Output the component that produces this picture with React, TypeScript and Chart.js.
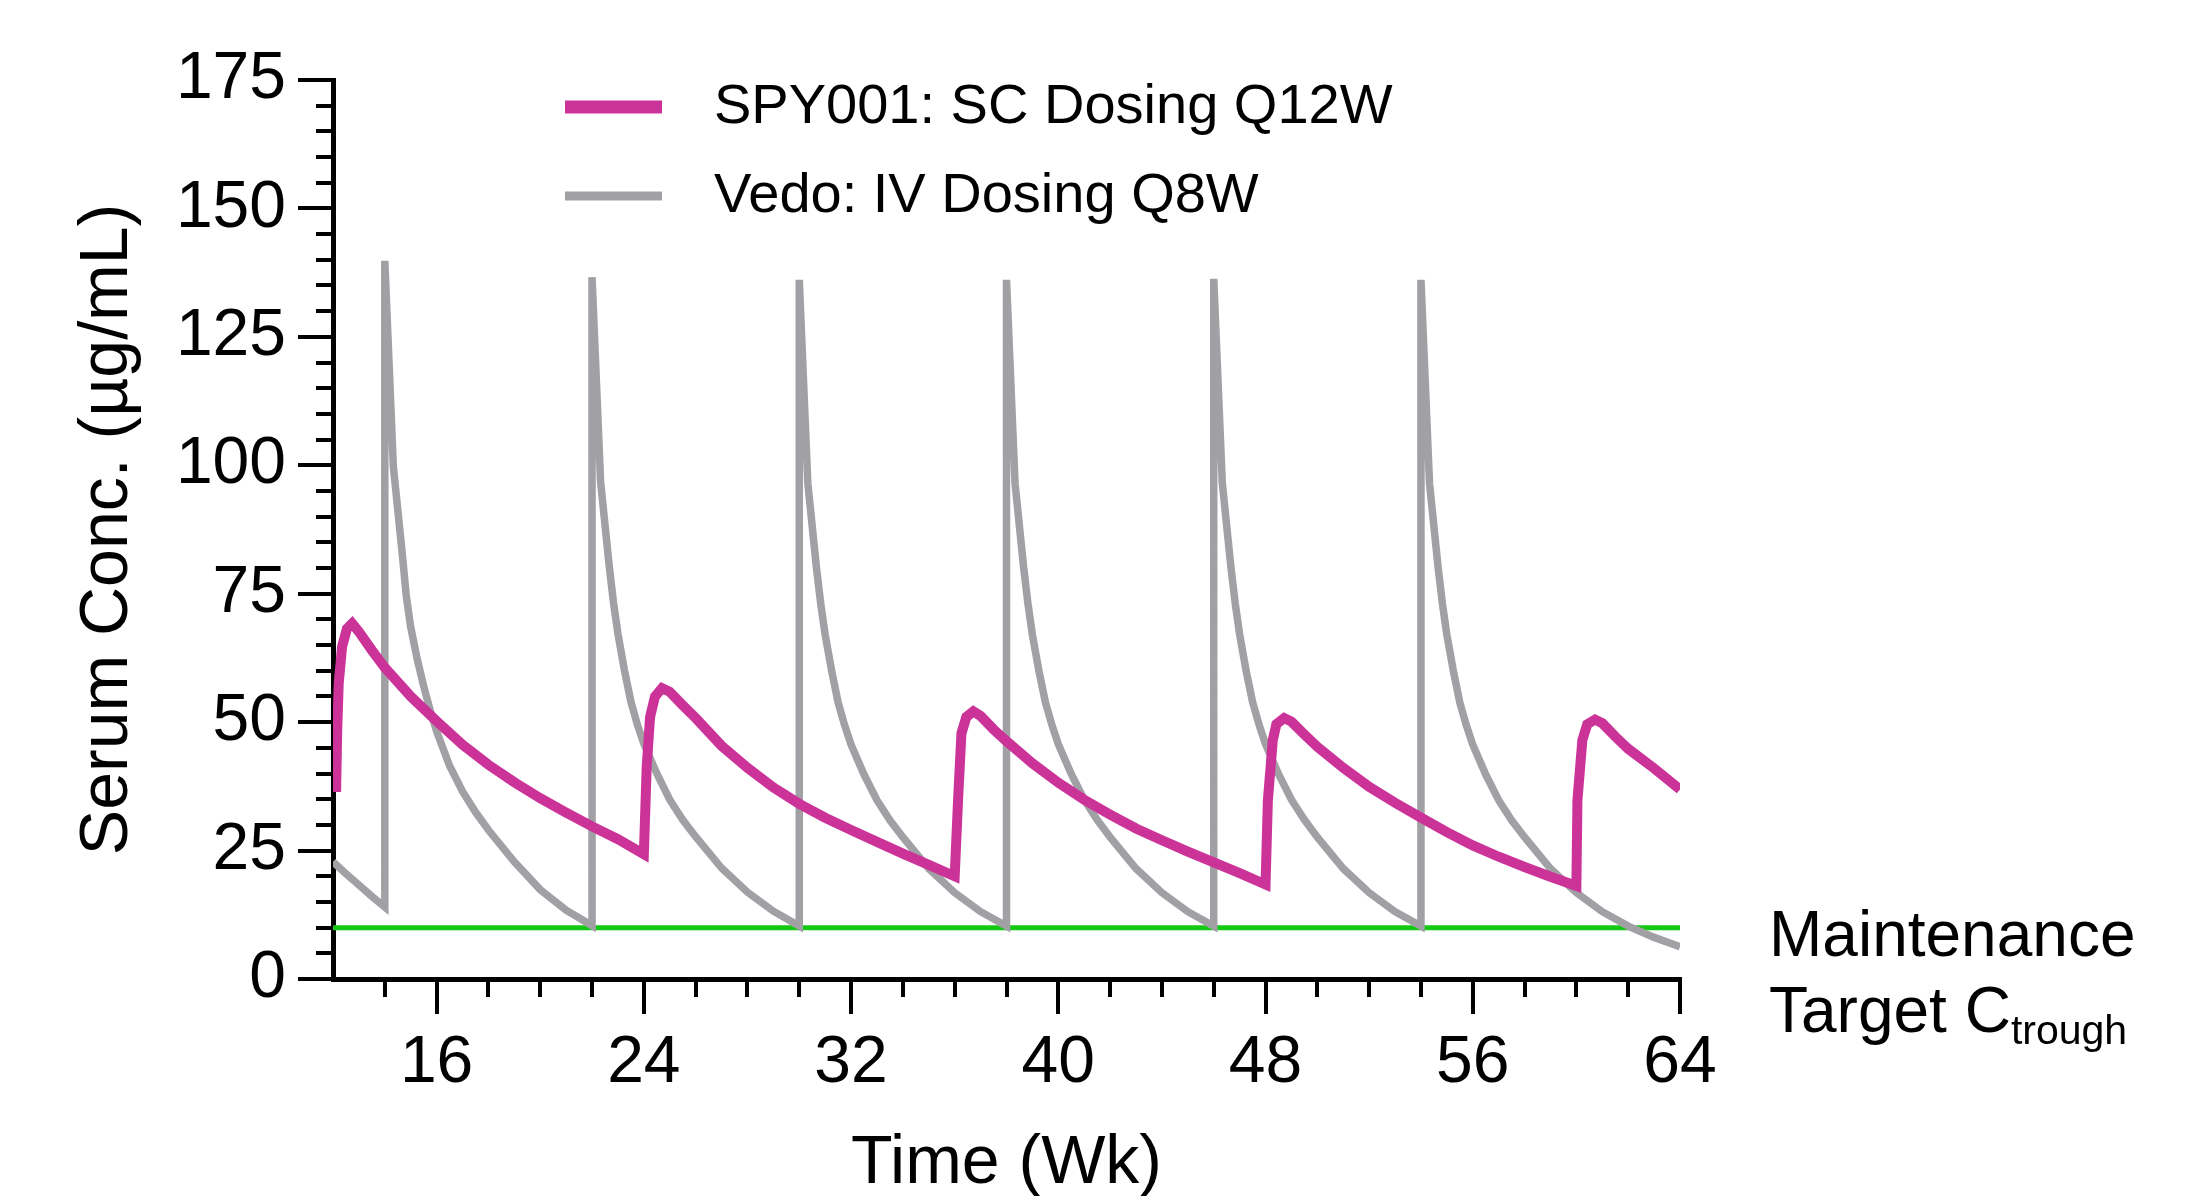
import React, { useEffect, useRef } from "react";
import { Chart, registerables } from "chart.js";

Chart.register(...registerables);

// ---------------- data ----------------
const spyLabel = "SPY001: SC Dosing Q12W";
const vedoLabel = "Vedo: IV Dosing Q8W";

const spyWeeks = [
  12.12, 12.16, 12.22, 12.35, 12.54, 12.74, 13.0, 13.5, 14, 15, 16, 17, 18, 19, 20, 21, 22, 23, 24,
  24.11, 24.24, 24.43, 24.7, 25.0, 25.5, 26, 27, 28, 29, 30, 31, 32, 33, 34, 35, 36,
  36.13, 36.26, 36.45, 36.72, 37, 37.5, 38, 39, 40, 41, 42, 43, 44, 45, 46, 47, 48,
  48.09, 48.28, 48.42, 48.72, 49, 49.5, 50, 51, 52, 53, 54, 55, 56, 57, 58, 59, 60,
  60.04, 60.23, 60.42, 60.72, 61, 61.5, 62, 63, 64,
];
const spyConc = [
  36.4, 47.8, 57.5, 64.7, 68.2, 69.2, 67.6, 64.0, 60.6, 55.0, 50.2, 45.6, 41.7, 38.3, 35.2, 32.4, 29.7, 27.2, 24.3,
  41.3, 51.0, 55.0, 56.6, 55.9, 53.3, 50.8, 45.4, 41.1, 37.3, 34.1, 31.4, 29.0, 26.7, 24.4, 22.2, 20.0,
  34.8, 47.8, 51.0, 52.1, 51.2, 48.6, 46.3, 42.0, 38.2, 34.9, 32.0, 29.3, 27.0, 24.8, 22.7, 20.6, 18.4,
  34.8, 46.5, 49.6, 50.8, 50.1, 47.6, 45.2, 41.1, 37.4, 34.3, 31.4, 28.6, 26.0, 23.8, 21.8, 19.9, 18.1,
  34.8, 46.5, 49.6, 50.5, 49.8, 47.2, 44.8, 41.0, 36.9,
];

const vedoWeeks = [
  12, 12.5, 13, 13.5, 14,
  14, 14.33, 14.66, 14.83, 15, 15.25, 15.5, 15.75, 16, 16.5, 17, 17.5, 18, 19, 20, 21, 22,
  22, 22.33, 22.66, 22.83, 23, 23.25, 23.5, 23.75, 24, 24.5, 25, 25.5, 26, 27, 28, 29, 30,
  30, 30.33, 30.66, 30.83, 31, 31.25, 31.5, 31.75, 32, 32.5, 33, 33.5, 34, 35, 36, 37, 38,
  38, 38.33, 38.66, 38.83, 39, 39.25, 39.5, 39.75, 40, 40.5, 41, 41.5, 42, 43, 44, 45, 46,
  46, 46.33, 46.66, 46.83, 47, 47.25, 47.5, 47.75, 48, 48.5, 49, 49.5, 50, 51, 52, 53, 54,
  54, 54.33, 54.66, 54.83, 55, 55.25, 55.5, 55.75, 56, 56.5, 57, 57.5, 58, 59, 60, 61, 62, 63, 64,
];
const vedoConc = [
  22.8, 20.5, 18.3, 16.1, 14.0,
  139.8, 99.7, 83.5, 74.5, 68.5, 62.3, 57.0, 52.3, 48.2, 41.5, 36.5, 32.5, 29.0, 22.8, 17.4, 13.4, 10.4,
  136.6, 96.8, 80.5, 73.2, 67.2, 60.1, 54.0, 49.5, 45.8, 40.0, 34.9, 31.0, 27.7, 21.6, 16.9, 13.2, 10.3,
  136.1, 96.5, 80.2, 73.0, 67.0, 60.0, 53.8, 49.4, 45.6, 39.8, 34.8, 30.9, 27.6, 21.5, 16.8, 13.1, 10.3,
  136.1, 96.5, 80.2, 73.0, 67.0, 60.0, 53.9, 49.5, 45.7, 39.9, 34.9, 31.0, 27.6, 21.5, 16.8, 13.1, 10.3,
  136.3, 96.6, 80.3, 73.1, 67.1, 60.0, 53.9, 49.5, 45.7, 39.9, 34.9, 31.0, 27.6, 21.5, 16.8, 13.1, 10.3,
  136.1, 96.5, 80.2, 73.0, 67.0, 60.0, 53.8, 49.4, 45.6, 39.8, 34.8, 30.9, 27.6, 21.5, 16.8, 13.1, 10.3, 8.1, 6.3,
];

const targetWeeks = [12, 64];
const targetConc = [10, 10];

const xMajorTicks = [16, 24, 32, 40, 48, 56, 64];
const xMinorTicks = [14, 18, 20, 22, 26, 28, 30, 34, 36, 38, 42, 44, 46, 50, 52, 54, 58, 60, 62];
const yMajorTicks = [0, 25, 50, 75, 100, 125, 150, 175];
const yMinorTicks = [
  5, 10, 15, 20, 30, 35, 40, 45, 55, 60, 65, 70, 80, 85, 90, 95,
  105, 110, 115, 120, 130, 135, 140, 145, 155, 160, 165, 170,
];

const xTitle = "Time (Wk)";
const yTitle = "Serum Conc. (µg/mL)";
const targetLabelLines = ["Maintenance", "Target C"];
const targetLabelSub = "trough";

// ---------------- styles ----------------
const FONT = '"Liberation Sans", Arial, Helvetica, sans-serif';
const MAGENTA = "#CC3399";
const GRAY = "#A1A1A5";
const GREEN = "#14C814";

const legendPlugin = {
  id: "inlineLegend",
  afterDatasetsDraw(chart: any) {
    const { ctx, chartArea } = chart;
    const widths = [13, 9];
    ctx.save();
    [0, 1].forEach((i, r) => {
      const ds = chart.data.datasets[i];
      const y = chartArea.top + 27 + r * 89;
      ctx.strokeStyle = ds.borderColor;
      ctx.lineWidth = widths[r];
      ctx.lineCap = "butt";
      ctx.beginPath();
      ctx.moveTo(chartArea.left + 232, y);
      ctx.lineTo(chartArea.left + 329, y);
      ctx.stroke();
      ctx.fillStyle = "#000";
      ctx.font = `56px ${FONT}`;
      ctx.textBaseline = "middle";
      ctx.textAlign = "left";
      ctx.fillText(ds.label, chartArea.left + 381, y + 1);
    });
    ctx.restore();
  },
};

const targetLabelPlugin = {
  id: "targetLabel",
  afterDraw(chart: any) {
    const { ctx, chartArea, scales } = chart;
    const y0 = scales.y.getPixelForValue(targetConc[0]);
    const x0 = chartArea.right + 89;
    ctx.save();
    ctx.fillStyle = "#000";
    ctx.textAlign = "left";
    ctx.textBaseline = "alphabetic";
    ctx.font = `64px ${FONT}`;
    ctx.fillText(targetLabelLines[0], x0, y0 + 28.5);
    ctx.fillText(targetLabelLines[1], x0, y0 + 104.5);
    const w = ctx.measureText(targetLabelLines[1]).width;
    ctx.font = `41px ${FONT}`;
    ctx.fillText(targetLabelSub, x0 + w, y0 + 116.5);
    ctx.restore();
  },
};

export default function App() {
  const canvasRef = useRef<HTMLCanvasElement | null>(null);

  useEffect(() => {
    const canvas = canvasRef.current;
    if (!canvas) return;
    const toPts = (xs: number[], ys: number[]) => xs.map((x, i) => ({ x, y: ys[i] }));

    const chart = new Chart(canvas, {
      type: "line",
      data: {
        datasets: [
          {
            label: spyLabel,
            data: toPts(spyWeeks, spyConc),
            borderColor: MAGENTA,
            backgroundColor: MAGENTA,
            borderWidth: 10,
            pointRadius: 0,
            tension: 0,
            borderJoinStyle: "miter",
            borderCapStyle: "butt",
            xAxisID: "x",
            yAxisID: "y",
          },
          {
            label: vedoLabel,
            data: toPts(vedoWeeks, vedoConc),
            borderColor: GRAY,
            backgroundColor: GRAY,
            borderWidth: 7.5,
            pointRadius: 0,
            tension: 0,
            borderJoinStyle: "miter",
            borderCapStyle: "butt",
            xAxisID: "x",
            yAxisID: "y",
          },
          {
            label: "Maintenance Target Ctrough",
            data: toPts(targetWeeks, targetConc),
            borderColor: GREEN,
            backgroundColor: GREEN,
            borderWidth: 5,
            pointRadius: 0,
            tension: 0,
            xAxisID: "x",
            yAxisID: "y",
          },
        ],
      } as any,
      options: {
        responsive: false,
        animation: false,
        devicePixelRatio: 1,
        events: [],
        layout: { padding: { left: 0, top: 80, right: 511, bottom: 0 } },
        plugins: {
          legend: { display: false },
          tooltip: { enabled: false },
        },
        scales: {
          x: {
            type: "linear",
            position: "bottom",
            weight: 1,
            min: 12,
            max: 64,
            afterBuildTicks: (s: any) => {
              s.ticks = xMajorTicks.map((v) => ({ value: v }));
            },
            afterFit: (s: any) => {
              s.height = 217;
            },
            grid: { drawOnChartArea: false, drawTicks: true, tickLength: 35, color: "#000", lineWidth: 4 },
            border: { display: true, color: "#000", width: 5 },
            ticks: {
              color: "#000",
              font: { family: FONT, size: 66 },
              padding: 10,
              autoSkip: false,
              maxRotation: 0,
              minRotation: 0,
            },
            title: {
              display: true,
              text: xTitle,
              color: "#000",
              font: { family: FONT, size: 68, lineHeight: 0.93 },
              padding: { top: 0, bottom: 0 },
            },
          },
          xMinor: {
            type: "linear",
            position: "bottom",
            weight: 0,
            min: 12,
            max: 64,
            afterBuildTicks: (s: any) => {
              s.ticks = xMinorTicks.map((v) => ({ value: v }));
            },
            afterFit: (s: any) => {
              s.height = 0;
            },
            grid: { drawOnChartArea: false, drawTicks: true, tickLength: 18, color: "#000", lineWidth: 4 },
            border: { display: false },
            ticks: { display: false, autoSkip: false },
          },
          y: {
            type: "linear",
            position: "left",
            weight: 1,
            min: 0,
            max: 175,
            afterBuildTicks: (s: any) => {
              s.ticks = yMajorTicks.map((v) => ({ value: v }));
            },
            afterFit: (s: any) => {
              s.width = 333;
            },
            grid: { drawOnChartArea: false, drawTicks: true, tickLength: 35, color: "#000", lineWidth: 4 },
            border: { display: true, color: "#000", width: 5 },
            ticks: {
              color: "#000",
              font: { family: FONT, size: 66 },
              padding: 12,
              autoSkip: false,
            },
            title: {
              display: true,
              text: yTitle,
              color: "#000",
              font: { family: FONT, size: 68, lineHeight: 1.2 },
              padding: { top: 67, bottom: 0 },
            },
          },
          yMinor: {
            type: "linear",
            position: "left",
            weight: 0,
            min: 0,
            max: 175,
            afterBuildTicks: (s: any) => {
              s.ticks = yMinorTicks.map((v) => ({ value: v }));
            },
            afterFit: (s: any) => {
              s.width = 0;
            },
            grid: { drawOnChartArea: false, drawTicks: true, tickLength: 17, color: "#000", lineWidth: 4 },
            border: { display: false },
            ticks: { display: false, autoSkip: false },
          },
        },
      } as any,
      plugins: [legendPlugin, targetLabelPlugin],
    });

    return () => {
      chart.destroy();
    };
  }, []);

  return (
    <div
      style={{
        position: "absolute",
        left: 0,
        top: 0,
        width: 2191,
        height: 1196,
        background: "#fff",
      }}
    >
      <canvas ref={canvasRef} width={2191} height={1196} style={{ display: "block" }} />
    </div>
  );
}
